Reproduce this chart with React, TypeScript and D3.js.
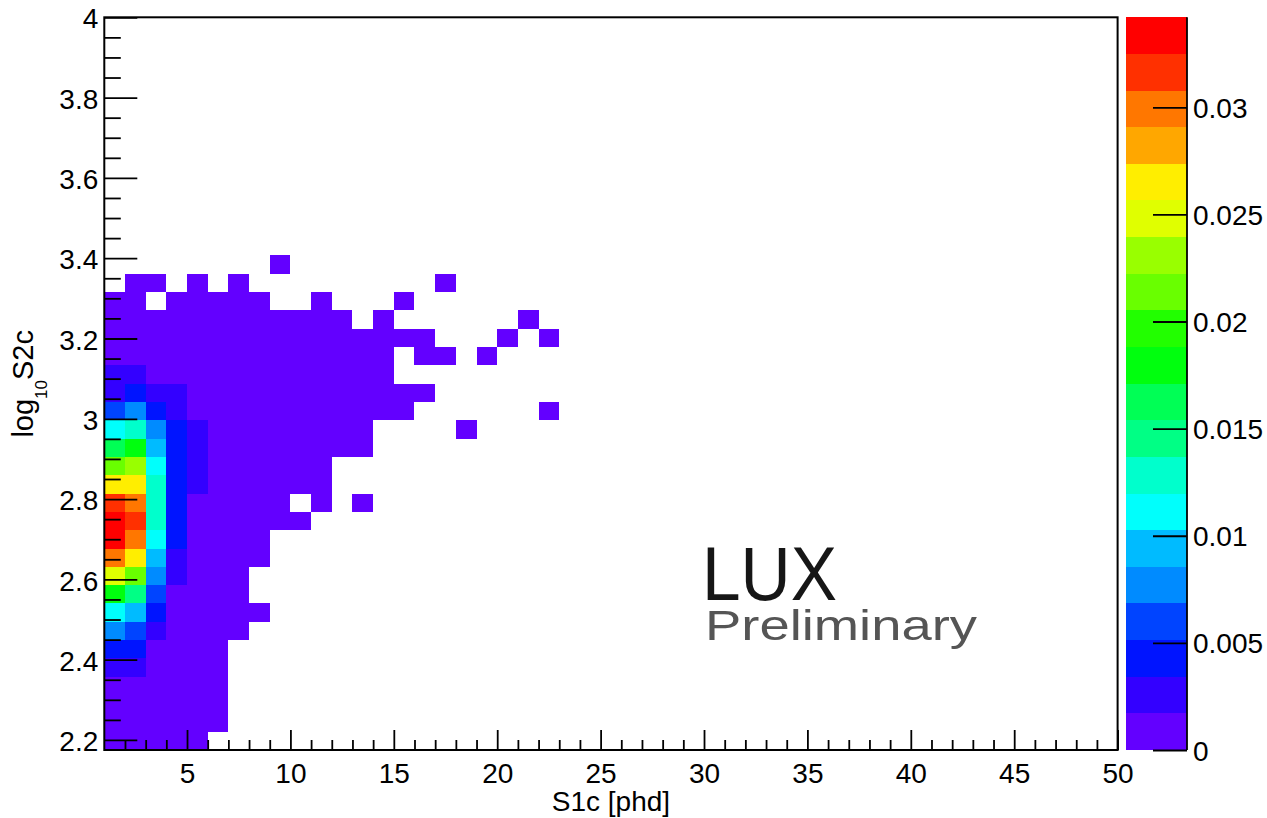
import { useEffect, useRef } from 'react';
import * as d3 from 'd3';

const [W, H] = [1267, 818];
const FONT = '"Liberation Sans", Arial, Helvetica, sans-serif';

// histogram binning
const s1cRange = [1, 50];
const s1cBinWidth = 1;
const s2cRange = [2.175, 4];
const s2cBinWidth = 0.045625;

// colour axis
const zMax = 0.0342;
const zLevels = 20;
const zTicks = [0, 0.005, 0.01, 0.015, 0.02, 0.025, 0.03];

const xTickLabels = [5, 10, 15, 20, 25, 30, 35, 40, 45, 50];
const yTickLabels = [2.2, 2.4, 2.6, 2.8, 3, 3.2, 3.4, 3.6, 3.8, 4];

// bin content (x 1e-3), one array per log10S2c bin starting at the bottom,
// index inside an array = S1c bin starting at S1c = 1
const P = 0.8;
const density = [
    [P, P, P, P, P],
    [P, P, P, P, P, P],
    [P, P, P, P, P, P],
    [P, P, P, P, P, P],
    [2.6, 2.6, P, P, P, P],
    [4.3, 4.3, P, P, P, P],
    [7.7, 6.0, 2.6, P, P, P, P],
    [11.1, 9.4, 4.3, P, P, P, P, P],
    [18.0, 14.5, 6.0, P, P, P, P],
    [24.8, 21.4, 7.7, 2.6, P, P, P],
    [29.9, 26.5, 9.4, 2.6, P, P, P, P],
    [33.3, 29.9, 11.1, 4.3, P, P, P, P],
    [33.3, 31.6, 12.8, 4.3, P, P, P, P, P, P],
    [31.6, 29.9, 12.8, 4.3, P, P, P, P, P, 0, P, 0, P],
    [26.5, 26.5, 12.8, 4.3, 2.6, P, P, P, P, P, P],
    [21.4, 23.1, 11.1, 4.3, 2.6, P, P, P, P, P, P],
    [16.2, 18.0, 9.4, 4.3, 2.6, P, P, P, P, P, P, P, P],
    [11.1, 12.8, 7.7, 4.3, 2.6, P, P, P, P, P, P, P, P, 0, 0, 0, 0, P],
    [6.0, 7.7, 4.3, 2.6, P, P, P, P, P, P, P, P, P, P, P, 0, 0, 0, 0, 0, 0, P],
    [2.6, 4.3, 2.6, 2.6, P, P, P, P, P, P, P, P, P, P, P, P],
    [2.6, 2.6, P, P, P, P, P, P, P, P, P, P, P, P],
    [P, P, P, P, P, P, P, P, P, P, P, P, P, P, 0, P, P, 0, P],
    [P, P, P, P, P, P, P, P, P, P, P, P, P, P, P, P, 0, 0, 0, P, 0, P],
    [P, P, P, P, P, P, P, P, P, P, P, P, 0, P, 0, 0, 0, 0, 0, 0, P],
    [P, P, 0, P, P, P, P, P, 0, 0, P, 0, 0, 0, P],
    [0, P, P, 0, P, 0, P, 0, 0, 0, 0, 0, 0, 0, 0, 0, P],
    [0, 0, 0, 0, 0, 0, 0, 0, P],
];

// ROOT "pretty palette" (violet -> red), 20 contours picked out of 50 colours
const palette = d3.range(zLevels).map(k => {
    const idx = Math.floor((k + 0.99) * 50 / zLevels);
    return d3.hsl(280 - (idx + 1) * 5.6, 1, 0.5).formatHex();
});

function App() {
    const ref = useRef<SVGSVGElement>(null);

    useEffect(() => {
        if (!ref.current) return;
        const svg = d3.select(ref.current);
        svg.selectAll('*').remove();

        const [L, R, T, B] = [104.3, 1117.6, 17.3, 750];
        const x = d3.scaleLinear().domain(s1cRange).range([L, R]);
        const y = d3.scaleLinear().domain(s2cRange).range([B, T]);
        const z = d3.scaleLinear().domain([0, zMax]).range([B, T]);
        const color = d3.scaleQuantize<string>().domain([0, zMax]).range(palette);

        const cells = density.flatMap((row, j) =>
            row.map((v, i) => ({ i, j, v: v * 1e-3 })).filter(d => d.v > 0));

        svg.append('g')
            .attr('shape-rendering', 'crispEdges')
            .selectAll('rect')
            .data(cells)
            .join('rect')
            .attr('x', d => Math.round(x(s1cRange[0] + d.i * s1cBinWidth)))
            .attr('width', d => Math.round(x(s1cRange[0] + (d.i + 1) * s1cBinWidth)) - Math.round(x(s1cRange[0] + d.i * s1cBinWidth)))
            .attr('y', d => Math.round(y(s2cRange[0] + (d.j + 1) * s2cBinWidth)))
            .attr('height', d => Math.round(y(s2cRange[0] + d.j * s2cBinWidth)) - Math.round(y(s2cRange[0] + (d.j + 1) * s2cBinWidth)))
            .attr('fill', d => color(d.v));

        const styleAxis = (g, size) => {
            g.select('.domain').remove();
            g.selectAll('line').attr('stroke', '#000').attr('stroke-width', 1.8);
            g.selectAll('text').attr('font-family', FONT).attr('font-size', size).attr('fill', '#000');
        };

        // x axis: minor ticks every unit, major every 5
        const xMinor = d3.range(2, 50).filter(v => v % 5 !== 0);
        svg.append('g').attr('transform', `translate(0,${B})`)
            .call(d3.axisBottom(x).tickValues(xMinor).tickSize(-10).tickFormat(() => ''))
            .call(g => styleAxis(g, 28));
        svg.append('g').attr('transform', `translate(0,${B})`)
            .call(d3.axisBottom(x).tickValues(xTickLabels).tickSize(-20).tickPadding(13).tickFormat(d => String(d)))
            .call(g => styleAxis(g, 28));

        // y axis: minor every 0.05, major every 0.2
        const yMinor = d3.range(0, 37).map(k => +(2.2 + k * 0.05).toFixed(2)).filter(v => Math.round(v * 100) % 20 !== 0);
        svg.append('g').attr('transform', `translate(${L},0)`)
            .call(d3.axisLeft(y).tickValues(yMinor).tickSize(-16.5).tickFormat(() => ''))
            .call(g => styleAxis(g, 28));
        svg.append('g').attr('transform', `translate(${L},0)`)
            .call(d3.axisLeft(y).tickValues(yTickLabels).tickSize(-33).tickPadding(6).tickFormat(d => String(d)))
            .call(g => styleAxis(g, 28))
            .call(g => g.selectAll('text').attr('dy', '0.38em'));

        // frame
        svg.append('rect')
            .attr('x', L).attr('y', T).attr('width', R - L).attr('height', B - T)
            .attr('fill', 'none').attr('stroke', '#000').attr('stroke-width', 2);

        // colour bar
        const [CL, CR] = [1126, 1187];
        const levels = d3.range(zLevels).map(k => ({ lo: k * zMax / zLevels, hi: (k + 1) * zMax / zLevels }));
        svg.append('g')
            .attr('shape-rendering', 'crispEdges')
            .selectAll('rect')
            .data(levels)
            .join('rect')
            .attr('x', CL)
            .attr('width', CR - CL)
            .attr('y', d => Math.round(z(d.hi)))
            .attr('height', d => Math.round(z(d.lo)) - Math.round(z(d.hi)))
            .attr('fill', d => color((d.lo + d.hi) / 2));
        svg.append('line')
            .attr('x1', CR).attr('x2', CR).attr('y1', T).attr('y2', B)
            .attr('stroke', '#000').attr('stroke-width', 1.8);
        svg.append('g').attr('transform', `translate(${CR},0)`)
            .call(d3.axisRight(z).tickValues(zTicks).tickSize(-34).tickPadding(6).tickFormat(d => String(d)))
            .call(g => styleAxis(g, 28))
            .call(g => g.selectAll('text').attr('dy', '0.36em'));

        // axis titles
        svg.append('text')
            .attr('x', (L + R) / 2).attr('y', 811)
            .attr('text-anchor', 'middle')
            .attr('font-family', FONT).attr('font-size', 28)
            .text('S1c [phd]');

        const yt = svg.append('text')
            .attr('transform', 'translate(33,330) rotate(-90)')
            .attr('text-anchor', 'end')
            .attr('font-family', FONT).attr('font-size', 29);
        yt.append('tspan').text('log');
        yt.append('tspan').attr('font-size', 17).attr('dy', 14).text('10');
        yt.append('tspan').attr('dy', -14).text('S2c');

        // experiment label
        svg.append('text')
            .attr('x', 702).attr('y', 600)
            .attr('font-family', FONT).attr('font-size', 76)
            .attr('textLength', 135).attr('lengthAdjust', 'spacingAndGlyphs')
            .attr('fill', '#161616')
            .text('LUX');
        svg.append('text')
            .attr('x', 705).attr('y', 640)
            .attr('font-family', FONT).attr('font-size', 43)
            .attr('textLength', 272).attr('lengthAdjust', 'spacingAndGlyphs')
            .attr('fill', '#555')
            .text('Preliminary');
    }, []);

    return (
        <div style={{ position: 'absolute', left: 0, top: 0, width: W, height: H, background: '#fff' }}>
            <svg ref={ref} width={W} height={H} style={{ display: 'block' }} />
        </div>
    );
}

export default App;
